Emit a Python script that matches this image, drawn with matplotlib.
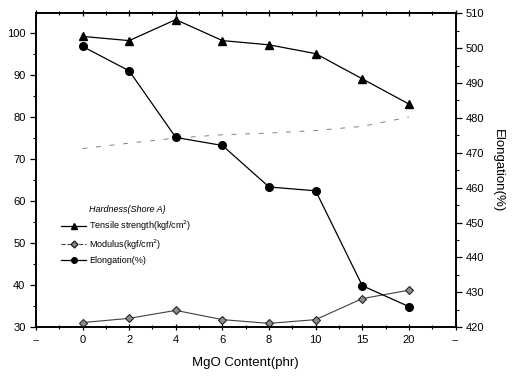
import numpy as np
import matplotlib.pyplot as plt
from matplotlib.lines import Line2D
from matplotlib.ticker import MultipleLocator

plt.rcParams['font.family'] = ['Liberation Sans', 'DejaVu Sans']

# MgO loading levels (phr) and measured properties
mgo = ['0', '2', '4', '6', '8', '10', '15', '20']
hardness = [72.5, 73.8, 75.0, 75.8, 76.2, 76.8, 77.8, 80.0]
tensile = [99.2, 98.2, 103.2, 98.2, 97.2, 95.1, 89.1, 83.1]
modulus = [31.1, 32.1, 34.0, 31.8, 30.9, 31.8, 36.8, 38.8]
elongation = [500.5, 493.5, 474.4, 472.1, 460.2, 459.1, 431.9, 425.9]

tick_labels = ['--'] + mgo + ['--']
x = np.arange(1, len(mgo) + 1)

fig = plt.figure(figsize=(5.13, 3.8), dpi=100)
ax = fig.add_axes([0.070, 0.139, 0.818, 0.826])
ax2 = ax.twinx()

ax.plot(x, hardness, color='0.5', lw=0.7, ls=(0, (5, 9)), zorder=1)
ax.plot(x, tensile, color='black', lw=0.9, marker='^', ms=5.5, zorder=3)
ax.plot(x, modulus, color='0.25', lw=0.8, marker='D', ms=4.5,
        mfc='0.55', mec='0.15', mew=0.8, zorder=3)
ax2.plot(x, elongation, color='black', lw=0.9, marker='o', ms=5.5)

ax.set_xlim(0, len(tick_labels) - 1)
ax.set_ylim(30, 104.7)
ax2.set_ylim(420, 510)

ax.set_xticks(np.arange(len(tick_labels)))
ax.set_xticklabels(tick_labels)
ax.xaxis.set_minor_locator(MultipleLocator(0.5))
ax.yaxis.set_major_locator(MultipleLocator(10))
ax.yaxis.set_minor_locator(MultipleLocator(5))
ax2.yaxis.set_major_locator(MultipleLocator(10))
ax2.yaxis.set_minor_locator(MultipleLocator(5))

ax.tick_params(axis='both', which='major', labelsize=8, length=4, width=0.9)
ax.tick_params(axis='both', which='minor', length=2.5, width=0.8)
ax.tick_params(axis='x', which='both', top=True, direction='inout')
ax2.tick_params(axis='y', which='major', labelsize=8, length=4, width=0.9)
ax2.tick_params(axis='y', which='minor', length=2.5, width=0.8)

for a in (ax, ax2):
    for s in a.spines.values():
        s.set_linewidth(1.2)

ax.set_xlabel('MgO Content(phr)', fontsize=9.5, labelpad=9)
ax2.set_ylabel('Elongation(%)', fontsize=9.5, rotation=270, labelpad=14)

handles = [
    Line2D([], [], ls='none'),
    Line2D([], [], color='black', lw=0.9, marker='^', ms=4),
    Line2D([], [], color='0.25', lw=0.8, ls='--', marker='D', ms=3.5,
           mfc='0.55', mec='0.15'),
    Line2D([], [], color='black', lw=0.9, marker='o', ms=4),
]
labels = ['Hardness(Shore A)', 'Tensile strength(kgf/cm$^2$)',
          'Modulus(kgf/cm$^2$)', 'Elongation(%)']
leg = ax.legend(handles, labels, loc='upper left', bbox_to_anchor=(0.045, 0.41),
                frameon=False, fontsize=6.5, handlelength=2.8, handletextpad=0.3,
                labelspacing=0.5, borderpad=0.2)
leg.get_texts()[0].set_fontstyle('italic')

fig.savefig('out.png', dpi=100)
